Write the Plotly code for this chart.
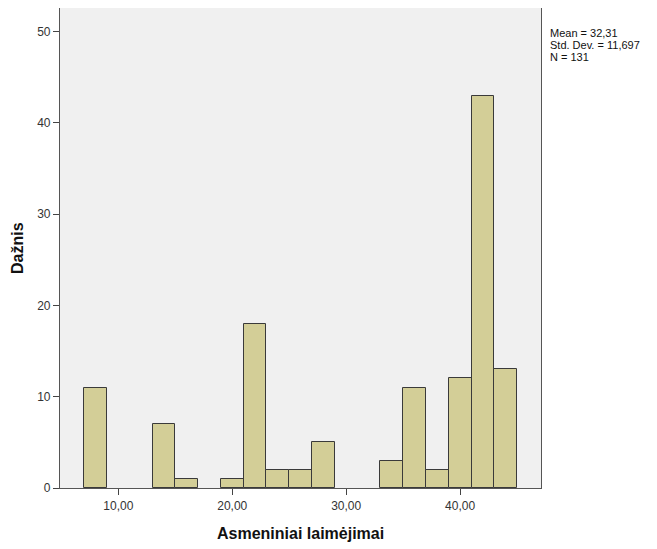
import plotly.graph_objects as go

bin_left = [7, 13, 15, 19, 21, 23, 25, 27, 33, 35, 37, 39, 41, 43]
counts = [11, 7, 1, 1, 18, 2, 2, 5, 3, 11, 2, 12, 43, 13]
bin_width = 2
x_tickvals = [10, 20, 30, 40]
x_ticktext = ["10,00", "20,00", "30,00", "40,00"]
y_tickvals = [0, 10, 20, 30, 40, 50]
x_title = "Asmeniniai laimėjimai"
y_title = "Dažnis"
stats_text = ["Mean = 32,31", "Std. Dev. = 11,697", "N = 131"]

centers = [b + bin_width / 2 for b in bin_left]

W, H = 649, 541
L, R, T, B = 52, 116, 0, 61
PW, PH = W - L - R, H - T - B

fig = go.Figure()
fig.add_trace(go.Bar(
    x=centers, y=counts, width=[bin_width] * len(counts),
    marker=dict(color="#D3CE97", line=dict(color="#3a3a3a", width=1)),
    showlegend=False, hoverinfo="x+y",
))

fig.update_layout(
    width=W, height=H,
    margin=dict(l=L, r=R, t=T, b=B, pad=0),
    paper_bgcolor="white", plot_bgcolor="#F0F0F0",
    font=dict(family="Liberation Sans, Arial", size=12, color="#333"),
    bargap=0,
    xaxis=dict(
        range=[4.88, 47.1], tickvals=x_tickvals, ticktext=x_ticktext,
        showgrid=False, zeroline=False, showline=True, mirror=True,
        linecolor="#555", linewidth=1.2,
        ticks="outside", ticklen=6, tickcolor="#444", tickwidth=1,
        tickfont=dict(size=12, color="#333"),
    ),
    yaxis=dict(
        range=[0, 52.6], tickvals=y_tickvals,
        showgrid=False, zeroline=False, showline=True, mirror=True,
        linecolor="#555", linewidth=1.2,
        ticks="outside", ticklen=6, tickcolor="#444", tickwidth=1,
        tickfont=dict(size=12, color="#333"),
    ),
)

# axis titles
fig.add_annotation(
    xref="paper", yref="paper", x=(9 - L) / PW, y=0.5, xanchor="center", yanchor="middle",
    text="<b>" + y_title + "</b>", textangle=-90, showarrow=False,
    font=dict(size=16, color="#111"),
)
fig.add_annotation(
    xref="paper", yref="paper", x=0.5, y=-(525 - T - PH) / PH, xanchor="center", yanchor="middle",
    text="<b>" + x_title + "</b>", showarrow=False,
    font=dict(size=16, color="#111"),
)

# stats box
for i, line in enumerate(stats_text):
    fig.add_annotation(
        xref="paper", yref="paper", x=1, xshift=7, y=1 - (25 + 12 * i - T) / PH,
        xanchor="left", yanchor="middle", text=line, showarrow=False, align="left",
        font=dict(size=11, color="#111"),
    )

fig.write_html("out.html")
